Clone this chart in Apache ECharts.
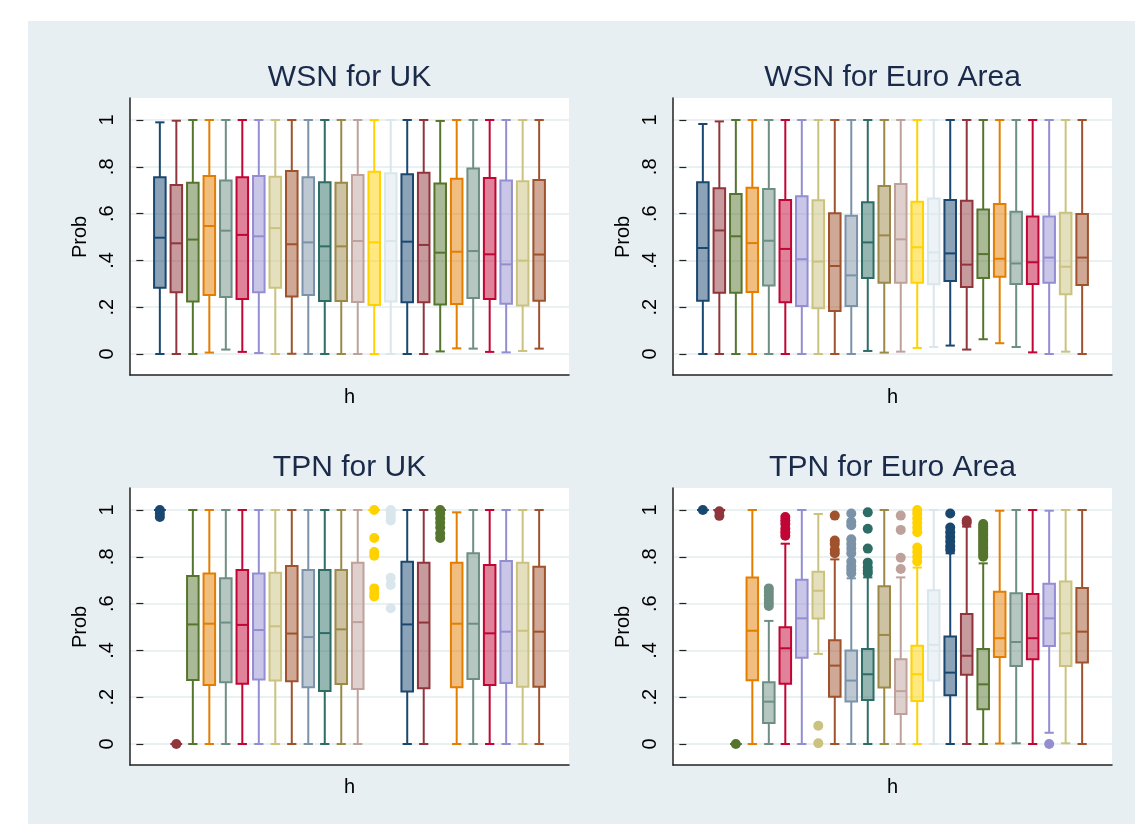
<!DOCTYPE html>
<html>
<head>
<meta charset="utf-8">
<script src="https://cdn.jsdelivr.net/npm/echarts@6/dist/echarts.min.js"></script>
<style>
  html, body { margin: 0; padding: 0; background: #fff; overflow: hidden; }
  #chart { width: 1135px; height: 824px; }
</style>
</head>
<body>
<div id="chart"></div>
<script>
// Forecast horizons h = 1..24
const horizons = [1, 2, 3, 4, 5, 6, 7, 8, 9, 10, 11, 12, 13, 14, 15, 16, 17, 18, 19, 20, 21, 22, 23, 24];
const panelTitles = ['WSN for UK', 'WSN for Euro Area', 'TPN for UK', 'TPN for Euro Area'];
const yTicks = [0, 0.2, 0.4, 0.6, 0.8, 1];

// Box summaries per horizon: [lower whisker, Q1, median, Q3, upper whisker]
const wsnUK = [
  [0, .283, .497, .755, .99], [0, .264, .473, .722, .997], [0, .224, .489, .732, 1], [.006, .252, .547, .761, 1],
  [.019, .244, .527, .741, 1], [.009, .235, .509, .755, 1], [.004, .264, .503, .761, 1], [0, .283, .538, .758, 1],
  [.001, .246, .469, .782, 1], [0, .252, .477, .755, 1], [0, .226, .46, .734, 1], [0, .226, .46, .732, 1],
  [0, .222, .483, .765, 1], [0, .209, .477, .779, 1], [0, .224, .483, .772, 1], [0, .221, .48, .768, 1],
  [0, .221, .466, .775, 1], [.011, .212, .433, .729, .996], [.024, .214, .437, .749, 1], [.023, .239, .44, .793, 1],
  [.009, .235, .426, .752, 1], [.007, .215, .383, .741, 1], [.013, .207, .399, .738, 1], [.023, .228, .425, .744, 1]
];
const wsnEA = [
  [0, .228, .453, .734, .983], [0, .262, .528, .708, .994], [0, .262, .503, .684, 1], [0, .265, .474, .711, 1],
  [0, .293, .484, .705, 1], [0, .221, .449, .658, 1], [0, .205, .405, .674, 1], [0, .195, .395, .657, 1],
  [0, .184, .376, .601, 1], [0, .205, .336, .591, 1], [.013, .325, .477, .648, 1], [.006, .305, .507, .718, 1],
  [.01, .305, .49, .726, 1], [.026, .305, .456, .651, 1], [.03, .298, .434, .665, 1], [.036, .312, .43, .658, 1],
  [.019, .286, .382, .655, 1], [.063, .325, .427, .618, 1], [.046, .33, .407, .641, 1], [.03, .299, .387, .608, 1],
  [.007, .299, .392, .588, 1], [0, .305, .412, .588, 1], [.01, .255, .373, .604, 1], [0, .295, .412, .598, 1]
];
const tpnUK = [
  [1, 1, 1, 1, 1], [0, 0, 0, 0, 0], [0, .274, .511, .718, 1], [0, .252, .514, .729, 1],
  [0, .264, .519, .708, 1], [0, .258, .509, .744, 1], [0, .276, .487, .729, 1], [0, .271, .503, .732, 1],
  [0, .268, .472, .761, 1], [0, .242, .457, .744, 1], [0, .226, .474, .744, 1], [0, .256, .49, .744, 1],
  [0, .235, .521, .775, 1], [1, 1, 1, 1, 1], [1, 1, 1, 1, 1], [0, .224, .511, .779, 1],
  [0, .238, .519, .775, 1], [1, 1, 1, 1, 1], [0, .242, .514, .775, .99], [0, .278, .514, .815, 1],
  [0, .252, .473, .765, 1], [0, .261, .48, .782, 1], [0, .245, .484, .775, 1], [0, .245, .48, .758, 1]
];
const tpnEA = [
  [1, 1, 1, 1, 1], [1, 1, 1, 1, 1], [0, 0, 0, 0, 0], [0, .272, .484, .712, 1],
  [0, .09, .181, .264, .526], [0, .258, .409, .499, .856], [0, .369, .537, .702, 1], [.385, .536, .655, .736, .983],
  [0, .202, .335, .443, .789], [0, .182, .271, .4, .708], [0, .188, .298, .406, .712], [0, .241, .466, .674, 1],
  [0, .128, .226, .362, .712], [0, .184, .298, .42, .754], [0, .271, .424, .657, 1], [0, .208, .305, .459, .815],
  [0, .296, .377, .556, .929], [0, .148, .255, .406, .772], [.002, .372, .452, .651, .997], [.003, .333, .436, .644, 1],
  [0, .362, .452, .641, 1], [.048, .419, .537, .685, .997], [.003, .333, .473, .694, 1], [0, .348, .48, .667, 1]
];

// Outside values: [horizon, [values]]
const wsnUKOut = [];
const wsnEAOut = [];
const tpnUKOut = [
  [1, [1, .985, .97]],
  [2, [0]],
  [14, [1, .88, .82, .805, .665, .645, .63]],
  [15, [1, .985, .97, .955, .71, .68, .58]],
  [18, [1, .985, .965, .945, .925, .9, .88]]
];
const tpnEAOut = [
  [1, [1]],
  [2, [.995, .975]],
  [3, [0]],
  [5, [.665, .65, .635, .62, .605, .59]],
  [6, [.97, .955, .94, .92, .905, .89]],
  [8, [.078, .003]],
  [9, [.976, .87, .855, .83, .815]],
  [10, [.985, .95, .935, .875, .855, .835, .815, .78, .76, .745, .73]],
  [11, [.99, .92, .835, .775, .755, .74, .73]],
  [13, [.976, .915, .796, .748]],
  [14, [1, .985, .965, .945, .925, .905, .84, .82, .8, .78]],
  [16, [.985, .925, .905, .885, .865, .845, .83]],
  [17, [.955, .945]],
  [18, [.94, .93, .92, .91, .9, .89, .88, .87, .86, .85, .84, .83, .82, .81, .8]],
  [22, [0]]
];

// Stata s2color plotting colours, cycled over the horizons
const palette = ['#1a476f', '#90353b', '#55752f', '#e37e00', '#6e8e84', '#c10534', '#938dd2', '#cac27e',
                 '#a0522d', '#7b92a8', '#2d6d66', '#9c8847', '#bfa19c', '#ffd200', '#d9e6eb'];
const colorOf = h => palette[(h - 1) % palette.length];
function tint(hex, a) {
  const n = parseInt(hex.slice(1), 16);
  return `rgba(${(n >> 16) & 255},${(n >> 8) & 255},${n & 255},${a})`;
}

const FONT = '"Liberation Sans", Arial, Helvetica, sans-serif';
const BG = '#e8eff2';

const panels = [
  { title: panelTitles[0], stats: wsnUK, out: wsnUKOut, left: 130, top: 98 },
  { title: panelTitles[1], stats: wsnEA, out: wsnEAOut, left: 673, top: 98 },
  { title: panelTitles[2], stats: tpnUK, out: tpnUKOut, left: 130, top: 488 },
  { title: panelTitles[3], stats: tpnEA, out: tpnEAOut, left: 673, top: 488 }
];
const FRAME_W = 439, FRAME_H = 277, INNER_TOP = 22, INNER_H = 234;

function renderBox(params, api) {
  const h = api.value(0);
  const lo = api.value(1), q1 = api.value(2), med = api.value(3), q3 = api.value(4), hi = api.value(5);
  const unit = api.size([1, 0])[0];
  const boxW = unit * 0.7, capW = unit * 0.56;
  const cx = api.coord([h, 0])[0];
  const y = v => api.coord([h, v])[1];
  const c = colorOf(h);
  const seg = (x1, y1, x2, y2) => ({ type: 'line', shape: { x1, y1, x2, y2 }, style: { stroke: c, lineWidth: 2 } });
  return {
    type: 'group',
    children: [
      seg(cx, y(hi), cx, y(q3)),
      seg(cx, y(q1), cx, y(lo)),
      seg(cx - capW / 2, y(hi), cx + capW / 2, y(hi)),
      seg(cx - capW / 2, y(lo), cx + capW / 2, y(lo)),
      { type: 'rect', shape: { x: cx - boxW / 2, y: y(q3), width: boxW, height: y(q1) - y(q3) },
        style: { fill: tint(c, 0.5), stroke: c, lineWidth: 2 } },
      seg(cx - boxW / 2, y(med), cx + boxW / 2, y(med))
    ]
  };
}

const tickFmt = v => {
  const s = String(+v.toFixed(1));
  return s.startsWith('0.') ? s.slice(1) : s;
};

const grid = [], xAxis = [], yAxis = [], series = [];
const graphic = [
  { type: 'rect', z: -10, silent: true, shape: { x: 28, y: 21, width: 1107, height: 803 }, style: { fill: BG } }
];

panels.forEach((p, k) => {
  // outer plot region with the axis lines
  grid.push({ left: p.left, top: p.top, width: FRAME_W, height: FRAME_H, show: true,
              backgroundColor: '#ffffff', borderWidth: 0, containLabel: false });
  // data area spanning 0..1
  grid.push({ left: p.left, top: p.top + INNER_TOP, width: FRAME_W, height: INNER_H, containLabel: false });
  const fg = 2 * k, dg = 2 * k + 1;

  xAxis.push({
    gridIndex: fg, type: 'value', min: 0, max: 1, position: 'bottom',
    axisLine: { show: true, onZero: false, lineStyle: { color: '#222', width: 1.5 } },
    axisTick: { show: false }, axisLabel: { show: false }, splitLine: { show: false },
    name: 'h', nameLocation: 'middle', nameGap: 12,
    nameTextStyle: { fontSize: 20, color: '#000', fontFamily: FONT }
  });
  yAxis.push({
    gridIndex: fg, type: 'value', min: 0, max: 1, position: 'left',
    axisLine: { show: true, onZero: false, lineStyle: { color: '#222', width: 1.5 } },
    axisTick: { show: false }, axisLabel: { show: false }, splitLine: { show: false }
  });
  xAxis.push({ gridIndex: dg, type: 'value', min: -0.81, max: 25.81, show: false });
  yAxis.push({
    gridIndex: dg, type: 'value', min: 0, max: 1, interval: 0.2, position: 'left',
    axisLine: { show: false },
    axisTick: { show: true, length: 7, lineStyle: { color: '#222', width: 1.2 } },
    axisLabel: { rotate: 90, margin: 13, fontSize: 20, color: '#000', fontFamily: FONT, formatter: tickFmt },
    splitLine: { show: true, lineStyle: { color: '#e3ecef', width: 1.5 } },
    name: 'Prob', nameLocation: 'middle', nameRotate: 90, nameGap: 40,
    nameTextStyle: { fontSize: 20, color: '#000', fontFamily: FONT }
  });

  series.push({
    type: 'custom', xAxisIndex: dg, yAxisIndex: dg, clip: false,
    renderItem: renderBox,
    encode: { x: 0, y: [1, 2, 3, 4, 5] },
    data: horizons.map((h, i) => [h].concat(p.stats[i]))
  });

  const pts = [];
  p.out.forEach(([h, vals]) => vals.forEach(v => pts.push([h, v])));
  series.push({
    type: 'scatter', xAxisIndex: dg, yAxisIndex: dg, clip: false,
    symbol: 'circle', symbolSize: 10,
    itemStyle: { color: prm => colorOf(prm.value[0]), opacity: 1 },
    data: pts
  });

  graphic.push({
    type: 'text', silent: true,
    style: {
      text: p.title, x: p.left + FRAME_W / 2, y: p.top - 20,
      textAlign: 'center', textVerticalAlign: 'middle', align: 'center', verticalAlign: 'middle',
      font: '30px ' + FONT, fill: '#1a2a4a'
    }
  });
});

const chart = echarts.init(document.getElementById('chart'), null, { renderer: 'canvas' });
chart.setOption({
  backgroundColor: '#ffffff',
  animation: false,
  grid, xAxis, yAxis, series, graphic
});
</script>
</body>
</html>
